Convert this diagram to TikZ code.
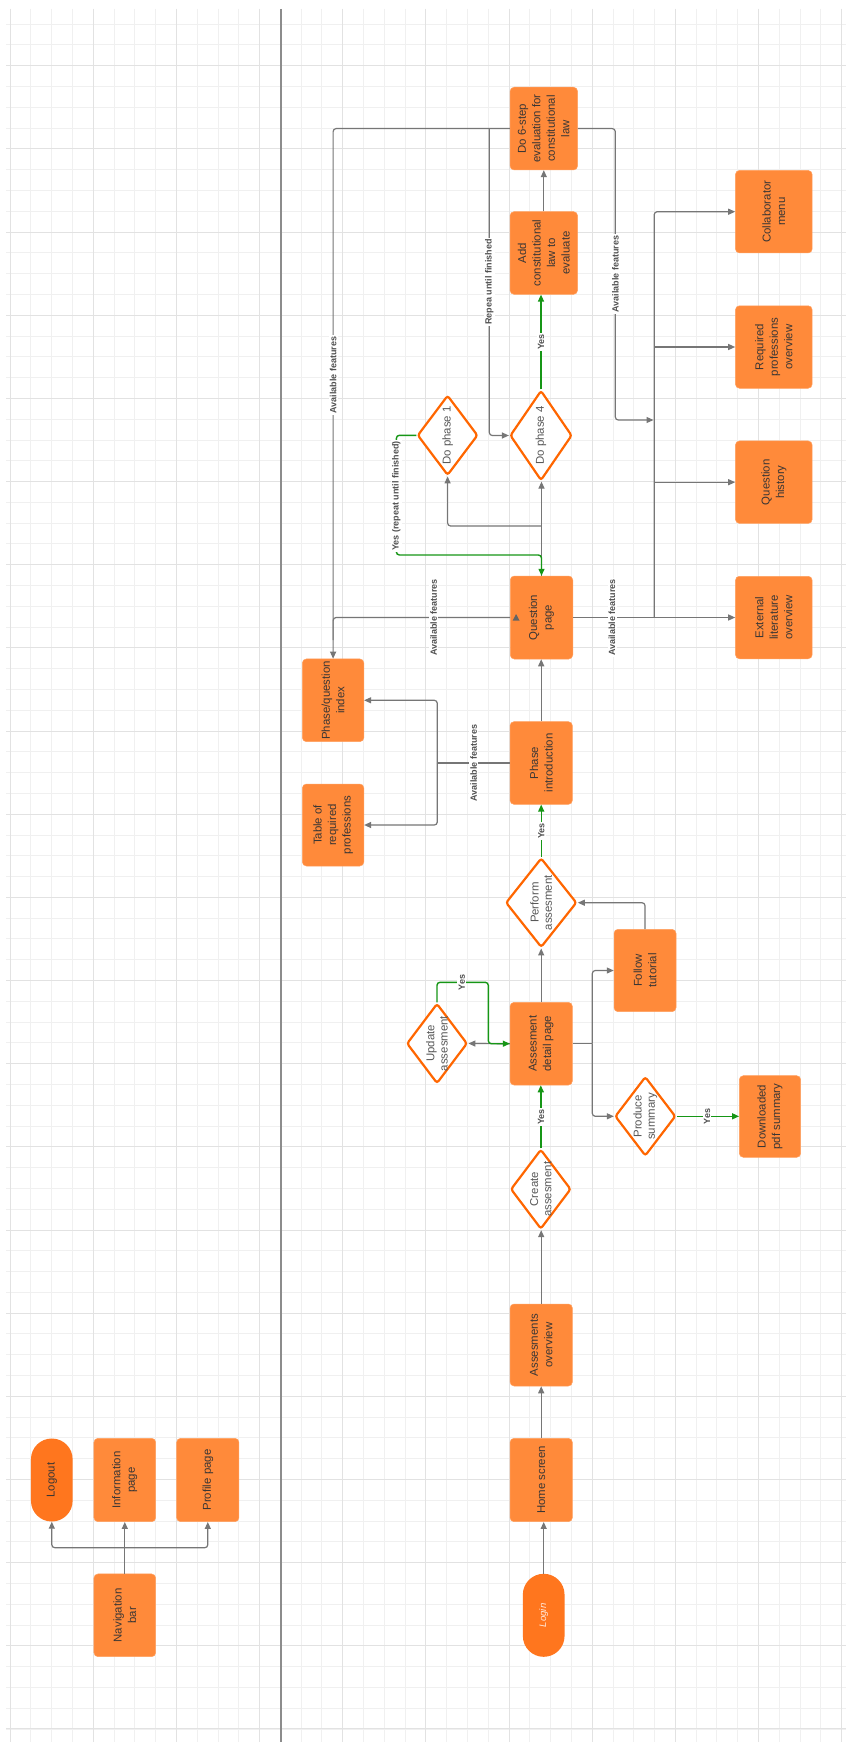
\documentclass[tikz,border=0pt]{standalone}
\usepackage{fontspec}
\setmainfont{Liberation Sans}
\usetikzlibrary{shapes.geometric,arrows.meta,calc}
\definecolor{cBox}{RGB}{255,138,58}
\definecolor{cBoxEdge}{RGB}{255,160,95}
\definecolor{cTerm}{RGB}{255,118,30}
\definecolor{cDia}{RGB}{255,102,0}
\definecolor{cTxt}{RGB}{58,54,52}
\definecolor{cDTxt}{RGB}{88,88,88}
\definecolor{cLine}{RGB}{118,118,118}
\definecolor{cArrow}{RGB}{100,100,100}
\definecolor{cGreen}{RGB}{22,150,22}
\definecolor{cLab}{RGB}{80,80,80}
\definecolor{cGridMin}{RGB}{240,240,240}
\definecolor{cGridMaj}{RGB}{226,226,226}
\definecolor{cDiv}{RGB}{140,140,140}
\begin{document}
\begin{tikzpicture}[x=1pt,y=-1pt,
 box/.style={rectangle, rounded corners=4pt, fill=cBox, draw=cBoxEdge, line width=0.5pt, inner sep=0pt, minimum width=62.3pt, minimum height=82.7pt},
 wbox/.style={box, minimum width=76.7pt, minimum height=82.5pt},
 term/.style={rectangle, rounded corners=20.8pt, fill=cTerm, draw=none, inner sep=0pt, minimum width=41.7pt, minimum height=83pt},
 dia/.style={diamond, draw=cDia, line width=2.2pt, fill=white, rounded corners=2.5pt, inner sep=0pt},
 bt/.style={rotate=90, align=center, text=cTxt, font=\fontsize{11.4}{14.5}\selectfont, inner sep=0pt},
 dt/.style={bt, text=cDTxt, font=\fontsize{11.4}{13.3}\selectfont},
 conn/.style={draw=cLine, line width=1.2pt, rounded corners=3pt},
 gconn/.style={draw=cGreen, line width=1.4pt, rounded corners=3pt},
 arr/.style={-{Triangle[length=7pt,width=6pt]}},
 lab/.style={rotate=90, fill=white, inner sep=1.2pt, text=cLab, font=\fontsize{9}{10}\selectfont\bfseries},
 gridmin/.style={draw=cGridMin, line width=0.8pt},
 gridmaj/.style={draw=cGridMaj, line width=0.9pt},
]
\useasboundingbox (0,0) rectangle (846,1742);
\fill[white] (0,0) rectangle (846,1742);
% grid
\foreach \i in {0,...,40} \draw[gridmin] ({10+\i*20.79},9) -- ({10+\i*20.79},1742);
\foreach \i in {0,...,82} \draw[gridmin] (6,{24.1+\i*20.79}) -- (846,{24.1+\i*20.79});
\foreach \i in {0,...,10} \draw[gridmaj] ({10+\i*83.16},9) -- ({10+\i*83.16},1742);
\foreach \i in {0,...,20} \draw[gridmaj] (6,{65.7+\i*83.16}) -- (846,{65.7+\i*83.16});
% divider
\draw[draw=cDiv, line width=1.3pt] (281,9) -- (281,1742);

% ---------- left panel ----------
\node[term, label={[bt]center:Logout}] (logout) at (51.8,1480) {};
\node[box, minimum width=61.7pt, minimum height=83.4pt, label={[bt]center:{Information\\page}}] (info) at (124.8,1480) {};
\node[box, minimum width=62.3pt, minimum height=83.4pt, label={[bt]center:{Profile page}}] (profile) at (207.8,1480) {};
\node[box, minimum width=61.7pt, label={[bt]center:{Navigation\\bar}}] (navbar) at (124.8,1615.3) {};
\coordinate (navj) at (124.8,1547.7);
\draw[conn] (navbar.north) -- (navj);
\draw[conn,arr] (navj) -| (logout.south);
\draw[conn,arr] (navj) -| (profile.south);
\draw[conn,arr] (navj) -- (info.south);

% ---------- main flow ----------
\node[term, label={[bt, text=white!85!cTerm, font=\fontsize{9.6}{11}\selectfont\itshape]center:Login}] (login) at (543.7,1615.3) {};
\node[box, minimum height=83.4pt, label={[bt]center:{Home screen}}] (home) at (541.2,1480) {};
\node[box, minimum height=82pt, label={[bt]center:{Assesments\\overview}}] (assov) at (541.2,1345) {};
\node[dia, minimum width=60.3pt, minimum height=79.7pt, label={[dt]center:{Create\\assesment}}] (create) at (540.8,1189.2) {};
\node[box, label={[bt]center:{Assesment\\detail page}}] (detail) at (541.2,1043.7) {};
\node[dia, minimum width=60.6pt, minimum height=80pt, label={[dt]center:{Update\\assesment}}] (update) at (437,1043.5) {};
\node[box, minimum width=62pt, minimum height=82.4pt, label={[bt]center:{Follow\\tutorial}}] (tutorial) at (645,970.5) {};
\node[dia, minimum width=60.7pt, minimum height=79.3pt, label={[dt]center:{Produce\\summary}}] (summary) at (645.3,1116.3) {};
\node[box, minimum width=61.4pt, minimum height=81.6pt, label={[bt]center:{Downloaded\\pdf summary}}] (pdf) at (770,1116.5) {};
\node[dia, minimum width=71pt, minimum height=89.3pt, label={[dt]center:{Perform\\assesment}}] (perform) at (541.2,902.7) {};
\node[box, label={[bt]center:{Phase\\introduction}}] (intro) at (541.2,763) {};
\node[box, minimum width=61.5pt, label={[bt]center:{Phase/question\\index}}] (pqindex) at (333.1,700.3) {};
\node[box, minimum width=61.5pt, minimum height=82pt, label={[bt]center:{Table of\\required\\professions}}] (table) at (333.1,825) {};
\node[box, minimum width=62.5pt, minimum height=83pt, label={[bt]center:{Question\\page}}] (qpage) at (541.5,617.5) {};
\node[wbox, label={[bt]center:{External\\literature\\overview}}] (extlit) at (773.8,617.5) {};
\node[wbox, label={[bt]center:{Question\\history}}] (qhist) at (773.8,482.2) {};
\node[wbox, label={[bt]center:{Required\\professions\\overview}}] (reqprof) at (773.8,347) {};
\node[wbox, label={[bt]center:{Collaborator\\menu}}] (collab) at (773.8,211.7) {};
\node[dia, minimum width=60.4pt, minimum height=80pt, label={[dt]center:{Do phase 1}}] (phase1) at (447.6,435.3) {};
\node[dia, minimum width=62pt, minimum height=90pt, label={[dt]center:{Do phase 4}}] (phase4) at (541,435.5) {};
\node[box, minimum width=67.5pt, label={[bt]center:{Add\\constitutional\\law to\\evaluate}}] (addlaw) at (543.8,253) {};
\node[box, minimum width=67.5pt, label={[bt]center:{Do 6-step\\evaluation for\\constitutional\\law}}] (sixstep) at (543.8,128.6) {};

% ---------- gray connectors ----------
\draw[conn,arr] (login.north) -- (login.north |- home.south);
\draw[conn,arr] (home.north) -- (assov.south);
\draw[conn,arr] (assov.north) -- (assov.north |- create.south);
\draw[conn,arr] (detail.north) -- (detail.north |- perform.south);
\draw[conn,arr] (detail.west) -- (update.east);
\coordinate (dj) at (592.3,1043.7);
\draw[conn] (detail.east) -- (dj);
\draw[conn,arr] (dj) |- (tutorial.west);
\draw[conn,arr] (dj) |- (summary.west);
\draw[conn,arr] (tutorial.north) |- (perform.east);
\draw[conn,arr] (intro.north) -- (intro.north |- qpage.south);
\coordinate (ij) at (437.3,763);
\draw[conn] (intro.west) -- (ij);
\draw[conn,arr] (ij) |- (pqindex.east);
\draw[conn,arr] (ij) |- (table.east);
\coordinate (qj) at (333.1,617.5);
\draw[conn] (qpage.west) -- (qj) -- (333.1,640);
\draw[conn,arr] (sixstep.west) -| (pqindex.north);
\coordinate (rj) at (489.3,128.6);
\draw[conn,arr] (rj) |- (phase4.west);
\coordinate (bus) at (654.2,617.5);
\draw[conn,arr] (qpage.east) -- (extlit.west);
\draw[conn,arr] (bus) |- (collab.west);
\coordinate (busr) at (654.2,347);
\coordinate (busq) at (654.2,482.2);
\draw[conn,arr] (busr) -- (reqprof.west);
\draw[conn,arr] (busq) -- (qhist.west);
\coordinate (sj) at (615.3,128.6);
\coordinate (busa) at (653.5,420);
\draw[conn,arr] (sixstep.east) -- (sj) |- (busa);
\draw[conn,arr] (addlaw.north) -- (addlaw.north |- sixstep.south);
\draw[conn,arr] (qpage.north) -- (qpage.north |- phase4.south);
\coordinate (pj) at (541.5,526);
\draw[conn,arr] (pj) -| (phase1.south);
\fill[cArrow] (512.7,620.5) -- (519.5,620.5) -- (516.1,614) -- cycle;

% ---------- green connectors ----------
\draw[gconn,arr] (create.north) -- (create.north |- detail.south);
\coordinate (uj) at (488.3,982.3);
\draw[gconn,arr] (update.north) |- (uj) |- (detail.west);
\draw[gconn,arr] (summary.east) -- (summary.east -| pdf.west);
\draw[gconn,arr] (perform.north) -- (perform.north |- intro.south);
\draw[gconn,arr] (phase4.north) -- (phase4.north |- addlaw.south);
\coordinate (gj) at (396.4,555);
\draw[gconn,arr] (phase1.west) -| (gj) -- (541.5,555) -- (qpage.north);

% ---------- labels ----------
\node[lab] (l1) at (541,1117) {Yes};
\node[lab] (l2) at (461.7,982.3) {Yes};
\node[lab] (l3) at (707,1116.3) {Yes};
\node[lab] (l4) at (541.2,831) {Yes};
\node[lab] (l5) at (541,342) {Yes};
\node[lab] (l6) at (473.6,763) {Available features};
\node[lab] (l7) at (433.6,617.5) {Available features};
\node[lab] (l8) at (612,617.5) {Available features};
\node[lab] (l9) at (333.1,375) {Available features};
\node[lab] (l10) at (615.3,274) {Available features};
\node[lab] (l11) at (489.3,282) {Repea until finished};
\node[lab] (l12) at (396.4,496) {Yes (repeat until finished)};
\end{tikzpicture}
\end{document}
